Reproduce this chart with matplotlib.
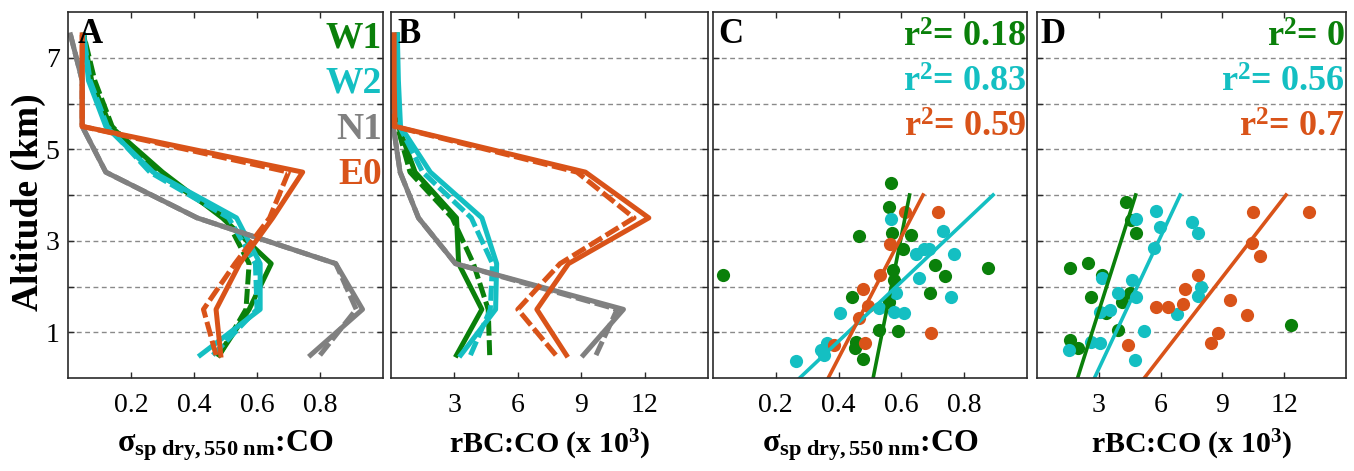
import numpy as np
import matplotlib
matplotlib.use("Agg")
import matplotlib.pyplot as plt

plt.rcParams['font.family'] = ['Liberation Serif', 'DejaVu Serif']
plt.rcParams['mathtext.fontset'] = 'custom'
plt.rcParams['mathtext.rm'] = 'Liberation Serif'
plt.rcParams['mathtext.it'] = 'Liberation Serif:italic'
plt.rcParams['mathtext.bf'] = 'Liberation Serif:bold'
plt.rcParams['mathtext.default'] = 'bf'

# ---- data ----
alt = [0.5, 1.5, 2.5, 3.5, 4.5, 5.5, 6.5, 7.5]
flights = ['W1', 'W2', 'N1', 'E0']
colors = {'W1': '#0a800a', 'W2': '#14bfc2', 'N1': '#808080', 'E0': '#d95319'}

# panel A: scattering : CO profiles (solid / dashed)
sca_W1 = [0.48, 0.575, 0.645, 0.49, 0.30, 0.135, 0.075, 0.05]
sca_W1_d = [0.48, 0.565, 0.575, 0.50, 0.28, 0.14, 0.085, 0.05]
sca_W2 = [0.42, 0.61, 0.61, 0.535, 0.27, 0.12, 0.065, 0.05]
sca_W2_d = [0.46, 0.60, 0.595, 0.51, 0.26, 0.125, 0.07, 0.05]
sca_N1 = [0.77, 0.935, 0.85, 0.41, 0.12, 0.045, 0.045, 0.008]
sca_N1_d = [0.80, 0.915, 0.85, 0.41, 0.12, 0.045, 0.045, 0.008]
sca_E0 = [0.485, 0.47, 0.545, 0.65, 0.745, 0.045, 0.045, 0.045]
sca_E0_d = [0.47, 0.43, 0.53, 0.64, 0.70, 0.045, 0.045, 0.045]

# panel B: rBC : CO profiles (x 10^3)
bc_W1 = [3.1, 4.3, 3.2, 3.1, 1.14, 0.35, 0.3, 0.3]
bc_W1_d = [4.67, 4.6, 3.9, 2.9, 0.9, 0.3, 0.25, 0.25]
bc_W2 = [3.3, 4.95, 5.0, 4.3, 1.86, 0.45, 0.35, 0.3]
bc_W2_d = [3.76, 4.7, 4.8, 3.8, 1.5, 0.4, 0.3, 0.25]
bc_N1 = [9.1, 11.0, 3.05, 1.3, 0.43, 0.11, 0.1, 0.1]
bc_N1_d = [9.7, 10.7, 3.05, 1.3, 0.43, 0.11, 0.1, 0.1]
bc_E0 = [8.3, 6.9, 8.4, 12.2, 9.2, 0.19, 0.15, 0.15]
bc_E0_d = [7.8, 6.0, 8.0, 11.5, 8.8, 0.15, 0.1, 0.1]

# panel C: scattering : CO individual points
c_W1_x = [0.031, 0.568, 0.56, 0.466, 0.57, 0.632, 0.605, 0.706, 0.739, 0.574, 0.875,
          0.692, 0.444, 0.56, 0.528, 0.588, 0.454, 0.451, 0.477, 0.577]
c_W1_y = [2.25, 4.26, 3.74, 3.11, 3.16, 3.13, 2.83, 2.47, 2.23, 2.36, 2.40,
          1.85, 1.78, 1.67, 1.05, 1.03, 0.79, 0.65, 0.42, 2.14]
c_W2_x = [0.568, 0.732, 0.645, 0.671, 0.687, 0.769, 0.657, 0.759, 0.583, 0.53,
          0.576, 0.607, 0.404, 0.364, 0.343, 0.354, 0.263]
c_W2_y = [3.47, 3.21, 2.72, 2.83, 2.83, 2.71, 2.18, 1.78, 1.85, 1.52,
          1.45, 1.43, 1.43, 0.76, 0.61, 0.51, 0.38]
c_E0_x = [0.611, 0.716, 0.565, 0.533, 0.478, 0.494, 0.466, 0.694, 0.385, 0.483]
c_E0_y = [3.62, 3.62, 2.93, 2.25, 1.94, 1.57, 1.31, 0.98, 0.72, 0.77]

# panel D: rBC : CO individual points
d_W1_x = [4.34, 4.58, 4.79, 1.62, 2.47, 3.15, 2.60, 3.36, 4.15, 4.5, 3.95, 1.62, 2.0, 12.35]
d_W1_y = [3.85, 3.46, 3.18, 2.40, 2.51, 2.25, 1.78, 1.42, 1.67, 1.85, 1.04, 0.83, 0.65, 1.15]
d_W2_x = [4.79, 5.77, 5.96, 5.66, 7.51, 7.8, 3.15, 4.63, 3.91, 4.82, 3.04, 3.55,
          7.96, 7.8, 6.8, 5.21, 2.6, 3.07, 1.57, 4.74]
d_W2_y = [3.47, 3.64, 3.31, 2.84, 3.41, 3.16, 2.18, 2.14, 1.85, 1.78, 1.45, 1.49,
          1.99, 1.79, 1.40, 1.03, 0.79, 0.76, 0.61, 0.39]
d_E0_x = [10.49, 13.18, 10.44, 10.84, 7.8, 7.19, 5.77, 6.37, 7.11, 9.37, 10.2, 8.78, 8.46, 4.42]
d_E0_y = [3.62, 3.62, 2.94, 2.66, 2.25, 1.94, 1.56, 1.56, 1.62, 1.70, 1.38, 0.98, 0.77, 0.72]

# linear fits (x at altitude 0 and slope per km)
fit_alt = [0.0, 4.0]
c_fit_x0 = {'W1': 0.51, 'W2': 0.276, 'E0': 0.367}
c_fit_k = {'W1': 0.029, 'W2': 0.154, 'E0': 0.0755}
d_fit_x0 = {'W1': 1.97, 'W2': 2.79, 'E0': 5.21}
d_fit_k = {'W1': 0.705, 'W2': 1.04, 'E0': 1.72}

c_r2 = {'W1': '0.18', 'W2': '0.83', 'E0': '0.59'}
d_r2 = {'W1': '0', 'W2': '0.56', 'E0': '0.7'}

# ---- figure ----
W, H = 1354, 471
fig = plt.figure(figsize=(W / 100, H / 100), dpi=100)

boxes = [(68, 383), (391, 708), (713, 1027), (1037, 1346)]
top_px, bot_px = 12, 378
axes = []
for l, r in boxes:
    ax = fig.add_axes([l / W, (H - bot_px) / H, (r - l) / W, (bot_px - top_px) / H])
    axes.append(ax)

frame_col = '#2a2a2a'
for i, ax in enumerate(axes):
    ax.set_ylim(0, 8)
    ax.set_yticks(range(1, 8))
    if i == 0:
        ax.set_yticklabels(['1', '', '3', '', '5', '', '7'])
    else:
        ax.set_yticklabels([])
    ax.yaxis.grid(True, color='#8a8a8a', lw=1.0, ls=(0, (3.5, 2.5)))
    ax.set_axisbelow(True)
    ax.tick_params(direction='in', top=True, right=True, length=4, width=1,
                   color=frame_col, labelsize=20, pad=11)
    ax.tick_params(axis='y', pad=6)
    for s in ax.spines.values():
        s.set_linewidth(1.2)
        s.set_color(frame_col)

for ax in (axes[0], axes[2]):
    ax.set_xlim(0, 1.0)
    ax.set_xticks([0.2, 0.4, 0.6, 0.8])
    ax.set_xticklabels(['0.2', '0.4', '0.6', '0.8'])
for ax in (axes[1], axes[3]):
    ax.set_xlim(0, 15)
    ax.set_xticks([3, 6, 9, 12])
    ax.set_xticklabels(['3', '6', '9', '12'])

lw = 3.6
dash = (0, (3, 0.9))
prof_a = {'W1': (sca_W1, sca_W1_d), 'W2': (sca_W2, sca_W2_d),
          'N1': (sca_N1, sca_N1_d), 'E0': (sca_E0, sca_E0_d)}
prof_b = {'W1': (bc_W1, bc_W1_d), 'W2': (bc_W2, bc_W2_d),
          'N1': (bc_N1, bc_N1_d), 'E0': (bc_E0, bc_E0_d)}
for ax, prof in ((axes[0], prof_a), (axes[1], prof_b)):
    for f in ['W1', 'W2', 'N1', 'E0']:
        solid, dashed = prof[f]
        ax.plot(dashed, alt, color=colors[f], lw=lw, ls=dash, solid_capstyle='butt')
        ax.plot(solid, alt, color=colors[f], lw=lw)

# legend text in panel A
for j, f in enumerate(flights):
    axes[0].text(0.996, 0.904 - j * 0.125, f, transform=axes[0].transAxes,
                 ha='right', va='baseline', fontsize=27, fontweight='bold',
                 color=colors[f])

pts_c = {'W1': (c_W1_x, c_W1_y), 'W2': (c_W2_x, c_W2_y), 'E0': (c_E0_x, c_E0_y)}
pts_d = {'W1': (d_W1_x, d_W1_y), 'W2': (d_W2_x, d_W2_y), 'E0': (d_E0_x, d_E0_y)}
for ax, pts, x0, k, r2 in ((axes[2], pts_c, c_fit_x0, c_fit_k, c_r2),
                           (axes[3], pts_d, d_fit_x0, d_fit_k, d_r2)):
    for f in ['W1', 'W2', 'E0']:
        x, y = pts[f]
        ax.plot(x, y, 'o', ms=9.5, mec='none', color=colors[f])
    for f in ['W1', 'W2', 'E0']:
        fa = np.array(fit_alt)
        ax.plot(x0[f] + k[f] * fa, fa, color=colors[f], lw=2.6)
    for j, f in enumerate(['W1', 'W2', 'E0']):
        ax.text(0.997, 0.905 - j * 0.123, 'r$^{2}$= ' + r2[f], transform=ax.transAxes,
                ha='right', va='baseline', fontsize=26, fontweight='bold',
                color=colors[f])

for ax, lab, dx in zip(axes, 'ABCD', [0.03, 0.02, 0.016, 0.01]):
    ax.text(dx, 0.915, lab, transform=ax.transAxes, ha='left', va='baseline',
            fontsize=25, fontweight='bold', color='black', zorder=10)

sig_lab = r'$\sigma_{sp\ dry,550\ nm}$:CO'
bc_lab = r'rBC:CO (x 10$^{3}$)'
for ax, lab in zip(axes, [sig_lab, bc_lab, sig_lab, bc_lab]):
    fs = 23 if lab == sig_lab else 21.5
    ax.set_xlabel(lab, fontsize=fs, fontweight='bold', labelpad=7)

fig.text(28 / W, 1 - 202 / H, 'Altitude (km)', rotation=90, ha='center', va='center',
         fontsize=27, fontweight='bold')

fig.savefig('out.png', dpi=100, facecolor='white')
